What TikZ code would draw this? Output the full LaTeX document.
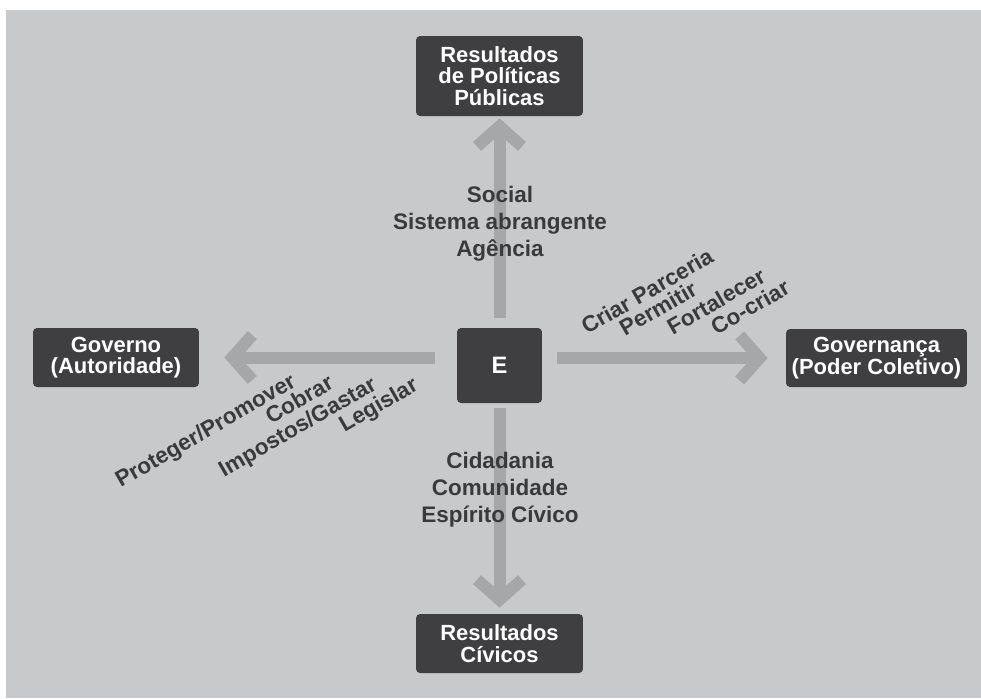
\documentclass[tikz,border=0pt]{standalone}
\usepackage{fontspec}
\setmainfont{Liberation Sans}
\usetikzlibrary{arrows.meta}
\definecolor{bggray}{HTML}{C8C9CB}
\definecolor{boxgray}{HTML}{3F3F41}
\definecolor{arrowgray}{HTML}{A6A7A9}
\definecolor{textgray}{HTML}{3A3A3C}

\begin{document}
\begin{tikzpicture}[x=0.02cm, y=-0.02cm,
    box/.style={fill=boxgray, rounded corners=2.3pt, text=white, inner sep=0pt,
      font=\fontsize{12.5}{12.3}\selectfont\bfseries, align=center},
    flow/.style={draw=arrowgray, line width=0.24cm,
      -{Straight Barb[length=0.4cm, width=0.9cm]}},
    lbl/.style={text=textgray, font=\fontsize{12.8}{15.3}\selectfont\bfseries, align=center},
    tilted/.style={lbl, rotate=30, anchor=base}]
  \useasboundingbox (0,0) rectangle (981,698);
  \fill[bggray] (6,10) rectangle (981,698);

  \node[box, minimum width=3.34cm, minimum height=1.6cm] (pol) at (499.5,76)
    {Resultados\\de Políticas\\Públicas};
  \node[box, minimum width=1.7cm, minimum height=1.5cm, font=\fontsize{13.5}{14}\selectfont\bfseries] (e) at (499.5,365.5) {E};
  \node[box, minimum width=3.32cm, minimum height=1.18cm] (gov) at (116,357.5)
    {Governo\\(Autoridade)};
  \node[box, minimum width=3.62cm, minimum height=1.16cm] (gob) at (876.5,358)
    {Governança\\(Poder Coletivo)};
  \node[box, minimum width=3.34cm, minimum height=1.18cm] (civ) at (499.5,643.5)
    {Resultados\\Cívicos};

  \draw[flow, shorten <=0.2cm, shorten >=0.04cm] (e) -- (pol);
  \draw[flow, shorten <=0.1cm, shorten >=0.12cm] (e) -- (civ);
  \draw[flow, shorten <=0.44cm, shorten >=0.5cm] (gov.east -| e.west) -- (gov.east);
  \draw[flow, shorten <=0.3cm, shorten >=0.36cm] (gob.west -| e.east) -- (gob.west);

  \node[lbl] (soc) at (500,224) {Social\\Sistema abrangente\\Agência};
  \node[lbl] (cid) at (500,490) {Cidadania\\Comunidade\\Espírito Cívico};

  \node[tilted] (prot) at (209,437) {Proteger/Promover};
  \node[tilted] (cob) at (303,406) {Cobrar};
  \node[tilted] (imp) at (301,433) {Impostos/Gastar};
  \node[tilted] (leg) at (382,411) {Legislar};
  \node[tilted] (cri) at (651,298) {Criar Parceria};
  \node[tilted] (per) at (662,315) {Permitir};
  \node[tilted] (fort) at (720,308) {Fortalecer};
  \node[tilted] (cocr) at (754,314) {Co-criar};
\end{tikzpicture}
\end{document}
